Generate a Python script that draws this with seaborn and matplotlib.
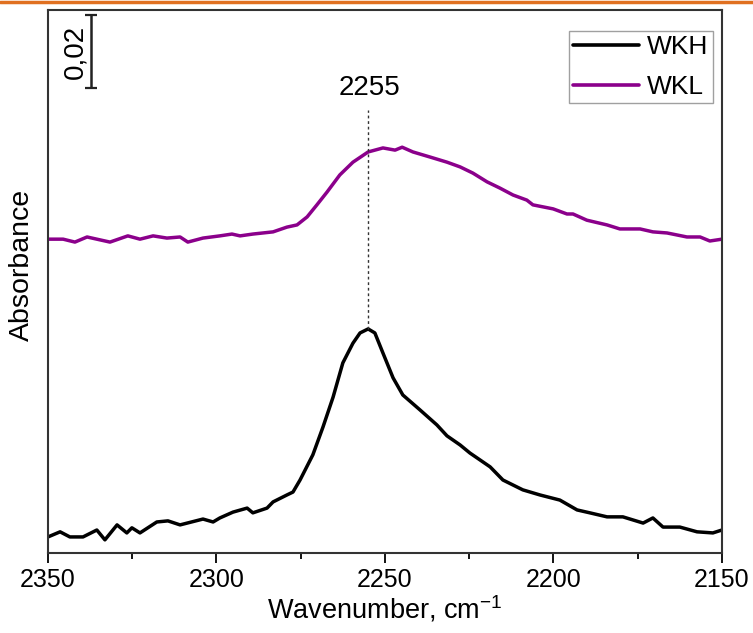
import numpy as np
import pandas as pd
import matplotlib
matplotlib.use("Agg")
import matplotlib.pyplot as plt
from matplotlib.lines import Line2D
import seaborn as sns

# FTIR spectra of adsorbed species, nitrile/CO region
wkh_wavenumber = [2350.0, 2346.4, 2343.5, 2339.6, 2335.5, 2333.1, 2329.5, 2326.6, 2325.1, 2322.7,
                  2317.7, 2314.4, 2310.8, 2304.0, 2301.0, 2299.0, 2295.1, 2290.9, 2289.2, 2285.0,
                  2283.2, 2279.1, 2277.3, 2275.2, 2271.4, 2268.4, 2265.4, 2262.5, 2259.5, 2257.4,
                  2255.0, 2253.0, 2250.6, 2247.6, 2244.7, 2239.6, 2234.6, 2231.6, 2227.7, 2224.8,
                  2218.8, 2215.0, 2209.1, 2204.0, 2198.1, 2193.0, 2189.2, 2184.1, 2179.4, 2173.4,
                  2170.5, 2167.5, 2162.5, 2157.4, 2152.7, 2150.0]
wkh_absorbance = [0.0044, 0.0058, 0.0044, 0.0044, 0.0063, 0.0036, 0.0077, 0.0055, 0.0069, 0.0055,
                  0.0085, 0.0088, 0.0077, 0.0093, 0.0085, 0.0096, 0.0112, 0.0123, 0.0110, 0.0123,
                  0.0140, 0.0159, 0.0167, 0.0200, 0.0269, 0.0345, 0.0427, 0.0521, 0.0575, 0.0603,
                  0.0614, 0.0603, 0.0548, 0.0480, 0.0433, 0.0392, 0.0351, 0.0321, 0.0296, 0.0274,
                  0.0236, 0.0200, 0.0173, 0.0159, 0.0145, 0.0118, 0.0110, 0.0099, 0.0099, 0.0082,
                  0.0096, 0.0071, 0.0071, 0.0058, 0.0055, 0.0063]

wkl_wavenumber = [2350.0, 2345.5, 2342.0, 2338.4, 2335.5, 2331.6, 2326.3, 2322.7, 2318.8, 2314.7,
                  2310.8, 2308.5, 2304.0, 2299.0, 2295.4, 2293.0, 2289.2, 2283.2, 2279.1, 2276.1,
                  2273.1, 2270.2, 2267.2, 2263.4, 2259.5, 2255.0, 2250.6, 2247.0, 2244.9, 2241.7,
                  2236.6, 2231.6, 2227.7, 2223.9, 2219.7, 2215.9, 2212.0, 2207.9, 2206.1, 2200.1,
                  2196.0, 2194.2, 2190.1, 2184.1, 2180.3, 2174.3, 2170.5, 2166.3, 2160.4, 2156.5,
                  2153.6, 2150.0]
wkl_absorbance = [0.0860, 0.0860, 0.0852, 0.0866, 0.0860, 0.0852, 0.0869, 0.0860, 0.0869, 0.0863,
                  0.0866, 0.0852, 0.0863, 0.0869, 0.0874, 0.0869, 0.0874, 0.0880, 0.0893, 0.0899,
                  0.0921, 0.0954, 0.0989, 0.1036, 0.1071, 0.1099, 0.1110, 0.1104, 0.1112, 0.1099,
                  0.1085, 0.1071, 0.1058, 0.1041, 0.1017, 0.1000, 0.0981, 0.0967, 0.0954, 0.0943,
                  0.0929, 0.0929, 0.0912, 0.0899, 0.0888, 0.0888, 0.0880, 0.0877, 0.0866, 0.0866,
                  0.0855, 0.0860]

series_names = ["WKH", "WKL"]
series_colors = ["#000000", "#8B008B"]
x_ticks = [2350, 2300, 2250, 2200, 2150]
peak_position = 2255
peak_label = "2255"
scale_bar_value = 0.02
scale_bar_label = "0,02"

df = pd.concat([
    pd.DataFrame({"wavenumber": wkh_wavenumber, "absorbance": wkh_absorbance, "sample": "WKH"}),
    pd.DataFrame({"wavenumber": wkl_wavenumber, "absorbance": wkl_absorbance, "sample": "WKL"}),
], ignore_index=True)

sns.set_style("ticks")
plt.rcParams["font.family"] = ["Liberation Sans", "DejaVu Sans"]
plt.rcParams["text.color"] = "black"
plt.rcParams["axes.labelcolor"] = "black"
plt.rcParams["xtick.color"] = "black"

fig = plt.figure(figsize=(7.53, 6.33), dpi=100)
ax = fig.add_axes([0.0637, 0.1264, 0.8951, 0.8578])

sns.lineplot(data=df, x="wavenumber", y="absorbance", hue="sample",
             hue_order=series_names, palette=series_colors, linewidth=2.5,
             sort=False, estimator=None, ax=ax)

ax.set_xlim(2350, 2150)
ax.set_ylim(0, 0.1488)
ax.set_xticks(x_ticks)
ax.set_xticks(np.arange(2350, 2149, -25), minor=True)
ax.set_yticks([])
ax.tick_params(axis="x", which="major", direction="out", length=7, width=1.3,
               labelsize=18, pad=4)
ax.tick_params(axis="x", which="minor", direction="out", length=4, width=1.3)
for s in ax.spines.values():
    s.set_visible(True)
    s.set_linewidth(1.5)
    s.set_color("#333333")

ax.set_xlabel("Wavenumber, cm$^{\\mathregular{-1}}$", fontsize=19.5, labelpad=1)
ax.set_ylabel("Absorbance", fontsize=20.5)
ax.yaxis.set_label_coords(-0.02, 0.53)

# dashed marker at the WKH maximum
wkh_peak = max(wkh_absorbance)
ax.plot([peak_position, peak_position], [wkh_peak, 0.1215], linestyle=(0, (2, 2)),
        color="#333333", linewidth=1.0)
ax.text(peak_position - 0.5, 0.1238, peak_label, ha="center", va="bottom", fontsize=20)

# absorbance scale bar
bar_x = 2337.2
bar_top = 0.1474
ax.errorbar([bar_x], [bar_top - scale_bar_value / 2], yerr=[[scale_bar_value / 2], [scale_bar_value / 2]],
            fmt="none", ecolor="#222222", elinewidth=1.8, capsize=4, capthick=1.6)
ax.text(2341.8, bar_top - scale_bar_value / 2, scale_bar_label, rotation=90,
        ha="center", va="center", fontsize=20)

leg = ax.legend(loc="upper right", bbox_to_anchor=(0.986, 0.961), fontsize=19, frameon=True,
                handlelength=2.5, handletextpad=0.3, borderpad=0.15, labelspacing=0.6,
                borderaxespad=0.0, fancybox=False, edgecolor="#888888")
leg.get_frame().set_linewidth(1.0)
for line in leg.get_lines():
    line.set_linewidth(2.6)

# accent rule along the top edge
fig.add_artist(Line2D([0, 1], [0.9975, 0.9975], transform=fig.transFigure,
                      color="#E07020", linewidth=2.5))

fig.savefig("out.png", dpi=100)
